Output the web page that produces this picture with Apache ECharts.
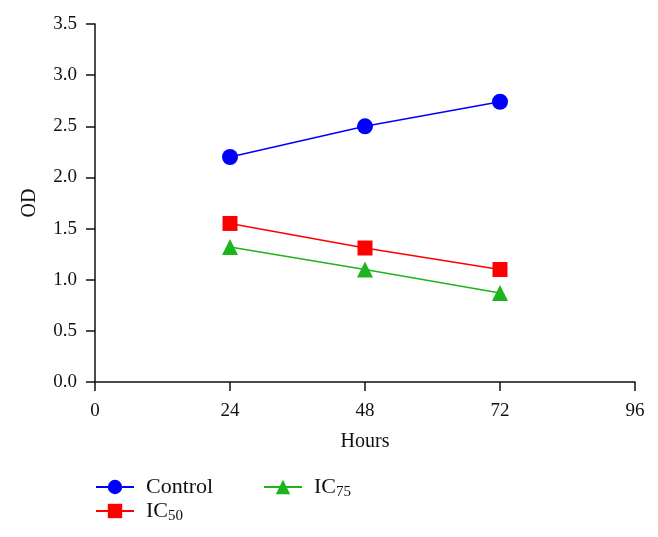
<!DOCTYPE html>
<html><head><meta charset="utf-8">
<script src="https://cdn.jsdelivr.net/npm/echarts@6/dist/echarts.min.js"></script>
<style>html,body{margin:0;padding:0;background:#fff}#c{width:658px;height:537px}</style>
</head><body><div id="c"></div>
<script>
const hours = [24, 48, 72];
const controlOD = [2.20, 2.50, 2.74];
const ic50OD = [1.55, 1.31, 1.10];
const ic75OD = [1.32, 1.10, 0.87];
const seriesNames = ['Control', 'IC50', 'IC75'];
const xTicks = [0, 24, 48, 72, 96];
const yTicks = [0, 0.5, 1, 1.5, 2, 2.5, 3, 3.5];

const font = 'Liberation Serif';
const chart = echarts.init(document.getElementById('c'));
const pts = arr => hours.map((h, i) => [h, arr[i]]);
const legendFmt = n => n.startsWith('IC') ? '{a|IC}{s|' + n.slice(2) + '}' : '{a|' + n + '}';
const legendRich = {
  a: {fontFamily: font, fontSize: 22, color: '#111', padding: [0, 0, 0, 7]},
  s: {fontFamily: font, fontSize: 15, color: '#111', padding: [10, 0, 0, 0]}
};
const mk = (name, data, color, symbol, size) => ({
  name, type: 'line', data: pts(data), symbol, symbolSize: size,
  lineStyle: {color, width: 1.5}, itemStyle: {color}, color,
  animation: false
});
chart.setOption({
  backgroundColor: '#fff',
  animation: false,
  grid: {left: 95, right: 23, top: 24, bottom: 155},
  legend: [
    {data: [seriesNames[0], seriesNames[1]], orient: 'vertical', left: 95, top: 476,
     padding: 0, itemWidth: 38, itemHeight: 18, itemGap: 2, formatter: legendFmt,
     textStyle: {rich: legendRich}},
    {data: [seriesNames[2]], orient: 'vertical', left: 263, top: 476,
     padding: 0, itemWidth: 38, itemHeight: 18, formatter: legendFmt,
     textStyle: {rich: legendRich}}
  ],
  xAxis: {
    type: 'value', min: xTicks[0], max: xTicks[xTicks.length - 1], interval: 24,
    name: 'Hours', nameLocation: 'middle', nameGap: 50,
    nameTextStyle: {fontFamily: font, fontSize: 20, color: '#111'},
    axisLine: {lineStyle: {color: '#111', width: 1.5}},
    axisTick: {length: 9, lineStyle: {color: '#111', width: 1.5}},
    axisLabel: {fontFamily: font, fontSize: 19, color: '#111', margin: 20},
    splitLine: {show: false}
  },
  yAxis: {
    type: 'value', min: yTicks[0], max: yTicks[yTicks.length - 1], interval: 0.5,
    name: 'OD', nameLocation: 'middle', nameGap: 55,
    nameTextStyle: {fontFamily: font, fontSize: 20, color: '#111'},
    axisLine: {show: true, lineStyle: {color: '#111', width: 1.5}},
    axisTick: {show: true, length: 9, lineStyle: {color: '#111', width: 1.5}},
    axisLabel: {fontFamily: font, fontSize: 19, color: '#111', margin: 18,
      formatter: v => v.toFixed(1)},
    splitLine: {show: false}
  },
  series: [
    mk(seriesNames[0], controlOD, '#0000ff', 'circle', 16),
    mk(seriesNames[1], ic50OD, '#ff0000', 'rect', 15),
    mk(seriesNames[2], ic75OD, '#1db41d', 'triangle', 16)
  ]
});
</script></body></html>
